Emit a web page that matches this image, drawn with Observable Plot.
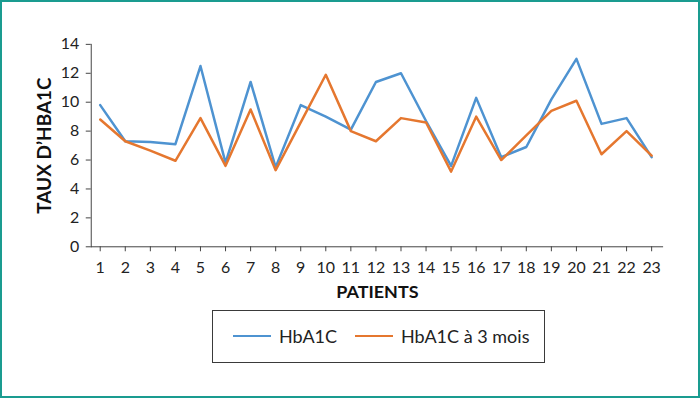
<!DOCTYPE html>
<html><head><meta charset="utf-8">
<script src="https://cdn.jsdelivr.net/npm/d3@7"></script>
<script src="https://cdn.jsdelivr.net/npm/@observablehq/plot@0.6"></script>
<style>
html,body{margin:0;padding:0;background:#fff;}
#frame{position:relative;width:696px;height:394px;border:2px solid #1a9c90;background:#fff;overflow:hidden;font-family:Lato,sans-serif;}
#chart{position:absolute;left:-2px;top:-2px;}
#legend{position:absolute;left:210px;top:308px;width:333px;height:53px;border:1px solid #3a3a3a;box-sizing:border-box;}
.item{position:absolute;top:14px;font-size:18px;color:#222;display:flex;align-items:center;}
.sw{display:inline-block;width:38px;height:0;border-top:2.5px solid;margin-right:8px;}
</style></head>
<body><div id="frame"><div id="chart"></div>
<div id="legend"></div></div>
<script>
const patients = [1,2,3,4,5,6,7,8,9,10,11,12,13,14,15,16,17,18,19,20,21,22,23];
const hba1c = [9.8,7.3,7.25,7.1,12.5,5.8,11.4,5.5,9.8,9.0,8.1,11.4,12.0,8.7,5.6,10.3,6.2,6.9,10.2,13.0,8.5,8.9,6.2];
const hba1c3m = [8.8,7.3,6.65,5.95,8.9,5.6,9.5,5.3,8.6,11.9,8.0,7.3,8.9,8.6,5.2,9.0,6.0,7.7,9.4,10.1,6.4,8.0,6.3];
const seriesNames = ["HbA1C","HbA1C à 3 mois"];
const colors = ["#4e93d1","#e5772f"];
const yTicks = [0,2,4,6,8,10,12,14];

const rows = [];
patients.forEach((p,i)=>{
  rows.push({patient:p, value:hba1c[i], series:seriesNames[0]});
  rows.push({patient:p, value:hba1c3m[i], series:seriesNames[1]});
});

const chart = Plot.plot({
  width:700, height:305,
  marginLeft:91, marginRight:35, marginTop:44, marginBottom:58,
  insetLeft:9, insetRight:12,
  style:{fontFamily:"Lato, sans-serif", fontSize:"16px", color:"#222", background:"transparent"},
  x:{domain:[1,23], ticks:patients},
  y:{domain:[0,14], ticks:yTicks},
  color:{domain:seriesNames, range:colors},
  marks:[
    Plot.axisY({ticks:yTicks, tickSize:5, tickPadding:7, label:null, fontSize:16, stroke:"#444"}),
    Plot.axisX({ticks:patients, tickSize:5, tickPadding:10, label:null, fontSize:16, stroke:"#444"}),
    Plot.frame({anchor:"left", stroke:"#444"}),
    Plot.ruleY([0], {stroke:"#444"}),
    Plot.lineY(rows, {x:"patient", y:"value", stroke:"series", strokeWidth:2.5}),
    Plot.text(["PATIENTS"], {frameAnchor:"bottom", dy:51, fontWeight:"bold", fontSize:18, fill:"#111"}),
    Plot.text(["TAUX D’HBA1C"], {frameAnchor:"left", textAnchor:"middle", dx:-46, rotate:-90, fontWeight:"bold", fontSize:19, fill:"#111"})
  ]
});
document.getElementById("chart").appendChild(chart);

const lg = document.getElementById("legend");
const pos = [20, 142];
seriesNames.forEach((n,i)=>{
  const d = document.createElement("div");
  d.className="item"; d.style.left = pos[i]+"px";
  d.innerHTML = `<span class="sw" style="border-color:${colors[i]}"></span>${n}`;
  lg.appendChild(d);
});
</script></body></html>
